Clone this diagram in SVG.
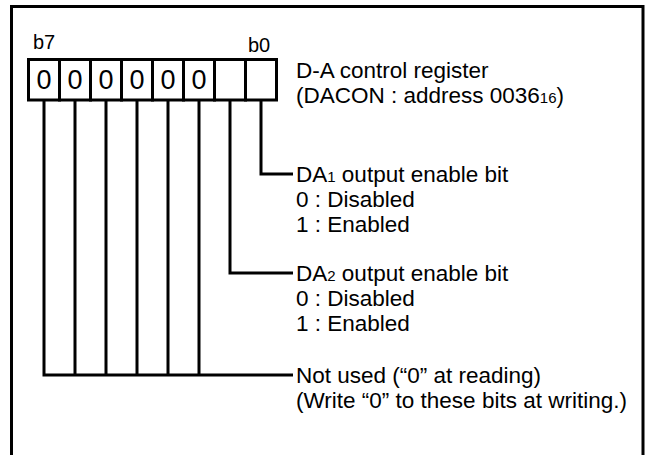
<svg xmlns="http://www.w3.org/2000/svg" width="647" height="455" viewBox="0 0 647 455">
<style>
.t{font-family:"Liberation Sans",Arial,sans-serif;font-size:22.5px;fill:#000}
.s{font-size:15px}
.b{font-family:"Liberation Sans",Arial,sans-serif;font-size:20px;fill:#000}
.z{font-family:"Liberation Sans",Arial,sans-serif;font-size:27px;fill:#000;text-anchor:middle}
.box{fill:#fff;stroke:#000;stroke-width:3}
.ln{fill:none;stroke:#000;stroke-width:3}
</style>
<rect width="647" height="455" fill="#fff"/>
<path class="ln" d="M11.5,460 V6.5 H643 V460"/>
<g id="connectors">
<path class="ln" d="M44,100 V375 M75,100 V375 M106,100 V375 M137,100 V375 M168,100 V375 M199,100 V375 M42.5,375 H293"/>
<path class="ln" d="M230,100 V273 H293"/>
<path class="ln" d="M261,100 V174 H293"/>
</g>
<g id="register">
<text class="b" x="33" y="49">b7</text>
<text class="b" x="248" y="52">b0</text>
<rect class="box" x="28.5" y="59.5" width="31" height="40.5"/>
<rect class="box" x="59.5" y="59.5" width="31" height="40.5"/>
<rect class="box" x="90.5" y="59.5" width="31" height="40.5"/>
<rect class="box" x="121.5" y="59.5" width="31" height="40.5"/>
<rect class="box" x="152.5" y="59.5" width="31" height="40.5"/>
<rect class="box" x="183.5" y="59.5" width="31" height="40.5"/>
<rect class="box" x="214.5" y="59.5" width="31" height="40.5"/>
<rect class="box" x="245.5" y="59.5" width="31" height="40.5"/>
<text class="z" x="44" y="89">0</text>
<text class="z" x="75" y="89">0</text>
<text class="z" x="106" y="89">0</text>
<text class="z" x="137" y="89">0</text>
<text class="z" x="168" y="89">0</text>
<text class="z" x="199" y="89">0</text>
</g>
<g id="title">
<text class="t" x="296" y="78">D-A control register</text>
<text class="t" x="296" y="103">(DACON : address 0036<tspan class="s">16</tspan>)</text>
</g>
<g id="da1">
<text class="t" x="296" y="182">DA<tspan class="s">1</tspan> output enable bit</text>
<text class="t" x="296" y="207">0 : Disabled</text>
<text class="t" x="296" y="232">1 : Enabled</text>
</g>
<g id="da2">
<text class="t" x="296" y="281">DA<tspan class="s">2</tspan> output enable bit</text>
<text class="t" x="296" y="306">0 : Disabled</text>
<text class="t" x="296" y="331">1 : Enabled</text>
</g>
<g id="notused">
<text class="t" x="296" y="383">Not used (“0” at reading)</text>
<text class="t" x="296" y="408">(Write “0” to these bits at writing.)</text>
</g>
</svg>
